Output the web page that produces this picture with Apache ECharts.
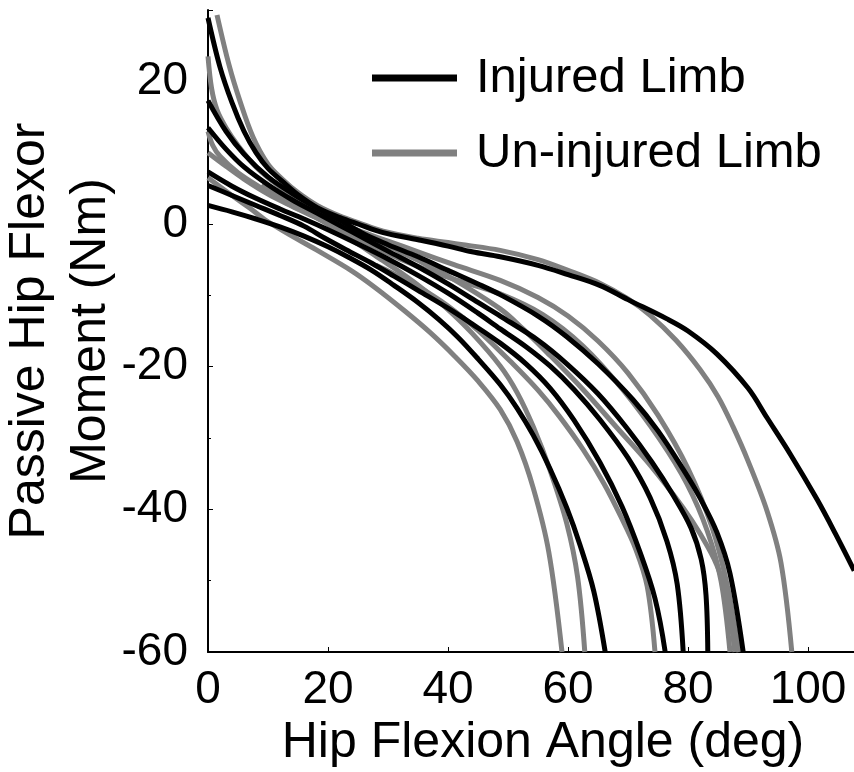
<!DOCTYPE html>
<html>
<head>
<meta charset="utf-8">
<script src="https://cdn.jsdelivr.net/npm/echarts@6/dist/echarts.min.js"></script>
<style>
html,body{margin:0;padding:0;background:#fff;}
#chart{width:854px;height:772px;}
</style>
</head>
<body>
<div id="chart"></div>
<script>
// Axis ticks
var xTicks = [0, 20, 40, 60, 80, 100];
var yTicks = [-60, -40, -20, 0, 20];

// Injured limb curves [angle (deg), moment (Nm)]
var injured1 = [[0,28.9],[2,22],[4,17],[6,13],[8,10],[10,7.8],[12.5,5.9],[15,4.1],[18.2,2.3],[22,0.9],[25,0],[29.2,-1.2],[35,-2.2],[40,-3.1],[44,-3.9],[48.7,-4.6],[55,-5.8],[60,-7.1],[65.3,-8.6],[70,-10.6],[76.5,-13.3],[80,-15],[84.8,-18.2],[90,-23],[93.2,-27.2],[97,-32.2],[101.5,-38.6],[104.5,-43.3],[107.7,-48.6]];
var injured2 = [[0,17.3],[3,13],[6,9.8],[10,6.6],[14,4.3],[18,2.3],[22,0.5],[26,-1.4],[30,-2.9],[35,-4.6],[40,-6.5],[45,-8.4],[48.7,-9.9],[55,-12.9],[59.8,-15.8],[65,-19.6],[70.8,-24.6],[75,-29],[79.2,-34.4],[82,-38.4],[84.8,-43.2],[87,-49],[89.2,-60]];
var injured3 = [[0,13.5],[3,10.5],[6,8],[10,5.5],[14,3.4],[18,1.6],[22,-0.2],[26,-2],[30,-3.8],[35,-6],[40,-8.4],[45,-11],[48.7,-12.9],[55,-16.3],[59.8,-19.6],[65,-23.8],[69.8,-28.6],[74,-33.4],[77.5,-38],[80.5,-42.6],[82.2,-47],[83,-52],[83.3,-60]];
var injured4 = [[0,7.3],[4,5.3],[8,3.6],[12,2.1],[16,0.7],[20,-0.8],[25,-2.8],[30,-4.9],[35,-7.2],[40,-9.7],[45,-12.5],[48.7,-14.7],[53,-17.2],[57,-19.9],[61,-23.2],[65.3,-27.4],[70,-32.8],[73.7,-38.4],[76.5,-44.5],[78.2,-50.5],[79.2,-60]];
var injured5 = [[0,5.4],[4,4],[8,2.6],[12,1.2],[16,-0.3],[19.5,-2],[23,-3.6],[27.3,-5.5],[31,-7.3],[35,-9.3],[40,-11.8],[44,-14],[48.7,-16.7],[53,-19.6],[57,-23],[61,-27.5],[65.3,-33.4],[69,-39.6],[72,-46],[74.5,-52.5],[76.2,-60]];
var injured6 = [[0,2.6],[4,1.7],[8,0.7],[12,-0.4],[16,-1.7],[20,-3.2],[23.5,-4.7],[27.3,-6.5],[31,-8.6],[35,-11],[38.5,-13.4],[41.7,-15.9],[45,-18.9],[48.7,-22.5],[51.5,-25.8],[54.2,-29.6],[57,-34.3],[59.8,-39.8],[62,-45],[64.3,-51.5],[66.2,-60]];

// Un-injured limb curves
var uninjured1 = [[1.5,29.3],[3.5,22.3],[5.3,17.3],[7.5,12.2],[10,8.4],[12.5,6.2],[15,4.4],[18.2,2.6],[22,1.1],[25,0.2],[29.2,-1],[35,-2],[40,-2.6],[42.5,-2.9],[48.7,-3.7],[55,-5],[60,-6.5],[65.3,-8.3],[70,-10.5],[73.7,-12.8],[78,-16.3],[82,-20.4],[85,-24.2],[87.5,-28.4],[90,-33.2],[93.2,-40.3],[95.5,-47.5],[97.3,-60]];
var uninjured2 = [[9,5.6],[12,4.1],[15,2.8],[17.8,1.6],[20,0.8],[25,-0.9],[30,-2.4],[35,-3.9],[41,-5.7],[48.7,-7.9],[55,-10.3],[60,-12.9],[65,-16.4],[70,-20.9],[75,-26.8],[80,-34.3],[84,-42.5],[86.5,-50.5],[88.5,-60]];
var uninjured3 = [[0,23.5],[0.6,19],[1.5,16],[3,13.5],[5,11],[8,8],[12,5.2],[16,3],[20,1.1],[25,-1.1],[30,-3.1],[35,-5.1],[41,-7.8],[48.7,-11.9],[52.5,-14.7],[56.5,-18],[62.5,-23.2],[68.2,-28.6],[73.7,-33.8],[79.2,-39.8],[82,-43.4],[84.8,-47.8],[86.5,-52.5],[87.8,-60]];
var uninjured4 = [[0,10],[3,8.1],[6,6.3],[10,4.2],[14,2.5],[18,0.9],[22,-0.8],[27,-2.9],[32,-4.9],[37,-6.6],[42,-8],[48.7,-9.8],[55.8,-12.7],[62.5,-17.1],[69.2,-23.3],[75.3,-30.2],[79.8,-36.4],[83.2,-43],[85.5,-50],[87,-60]];
var uninjured5 = [[28,-5.8],[30,-6.6],[35,-8.8],[40,-11.5],[45,-14.9],[50.8,-19.6],[55,-23.3],[58.5,-26.9],[62.5,-31.6],[66,-36.4],[68.8,-41],[71.3,-45.6],[73.2,-50.8],[74.5,-60]];
var uninjured6 = [[0,13],[0.8,11],[2,9.5],[5,7.2],[9,5],[13,3],[17.8,1],[21,-0.6],[25,-2.8],[28.5,-4.8],[32.3,-6.9],[36,-9.2],[40,-12],[44,-15.3],[48.7,-19.9],[51.5,-23.6],[54.2,-28.4],[57,-34.5],[59.8,-42],[61.6,-49.5],[62.8,-60]];
var uninjured7 = [[0,6.5],[4,4],[7,2.2],[9.5,0.6],[13,-1.2],[18,-3.6],[24,-6.6],[28,-9],[32.8,-12.2],[37,-15.2],[41.2,-18.6],[45,-22],[48.7,-26],[51.5,-30.5],[54.2,-37],[56.8,-46],[59,-60]];

var injuredSets = [injured1, injured2, injured3, injured4, injured5, injured6];
var uninjuredSets = [uninjured1, uninjured2, uninjured3, uninjured4, uninjured5, uninjured6, uninjured7];

var FONT = "'Liberation Sans', Arial, Helvetica, sans-serif";
var BLACK = '#000000';
var GRAY = '#808080';

function mkSeries(name, data, color) {
  return {
    name: name,
    type: 'line',
    data: data,
    showSymbol: false,
    symbol: 'none',
    smooth: 0.35,
    clip: true,
    lineStyle: { color: color, width: 5, cap: 'butt', join: 'round' },
    itemStyle: { color: color },
    emphasis: { disabled: true },
    silent: true
  };
}

var series = [];
uninjuredSets.forEach(function (d) { series.push(mkSeries('Un-injured Limb', d, GRAY)); });
injuredSets.forEach(function (d) { series.push(mkSeries('Injured Limb', d, BLACK)); });

var chart = echarts.init(document.getElementById('chart'));
chart.setOption({
  animation: false,
  backgroundColor: '#ffffff',
  textStyle: { fontFamily: FONT },
  grid: { left: 208, top: 10, width: 648, height: 642, containLabel: false, outerBoundsMode: 'none' },
  legend: {
    data: ['Injured Limb', 'Un-injured Limb'],
    orient: 'vertical',
    left: 367,
    top: 48,
    icon: 'rect',
    itemWidth: 85,
    itemHeight: 7,
    itemGap: 25,
    selectedMode: false,
    textStyle: { fontFamily: FONT, fontSize: 49, color: '#000', lineHeight: 50, padding: [0, 0, 0, 14] }
  },
  xAxis: {
    type: 'value',
    min: 0,
    max: 108,
    interval: 20,
    name: 'Hip Flexion Angle (deg)',
    nameLocation: 'middle',
    nameGap: 65,
    nameTextStyle: { fontFamily: FONT, fontSize: 50, color: '#000', lineHeight: 50, padding: [0, 0, 0, 22] },
    axisLine: { show: true, onZero: false, lineStyle: { color: '#000', width: 2 } },
    axisTick: { show: true, inside: true, length: 5, lineStyle: { color: '#000', width: 1 } },
    splitLine: { show: false },
    axisLabel: {
      fontFamily: FONT, fontSize: 46, color: '#000', margin: 15,
      showMaxLabel: false,
      formatter: function (v) { return xTicks.indexOf(v) >= 0 ? String(v) : ''; }
    }
  },
  yAxis: {
    type: 'value',
    min: -60,
    max: 30,
    interval: 20,
    name: 'Passive Hip Flexor\nMoment (Nm)',
    nameLocation: 'middle',
    nameRotate: 90,
    nameGap: 86,
    nameMoveOverlap: false,
    nameTextStyle: { fontFamily: FONT, fontSize: 50, color: '#000', lineHeight: 61, align: 'center' },
    axisLine: { show: true, onZero: false, lineStyle: { color: '#000', width: 2 } },
    axisTick: { show: true, inside: true, length: 5, lineStyle: { color: '#000', width: 1 } },
    minorTick: { show: true, splitNumber: 2, length: 3, lineStyle: { color: '#000', width: 1 } },
    splitLine: { show: false },
    axisLabel: {
      fontFamily: FONT, fontSize: 46, color: '#000', margin: 20,
      showMaxLabel: false,
      formatter: function (v) { return yTicks.indexOf(v) >= 0 ? String(v) : ''; }
    }
  },
  series: series
});
</script>
</body>
</html>
